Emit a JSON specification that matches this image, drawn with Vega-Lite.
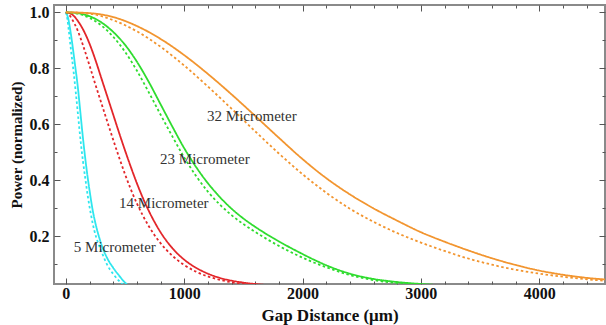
{
  "$schema": "https://vega.github.io/schema/vega-lite/v6.json",
  "width": 551,
  "height": 279,
  "autosize": {"type": "none"},
  "padding": {"left": 54, "top": 5, "right": 1, "bottom": 41},
  "background": "white",
  "config": {
    "view": {"stroke": "#8a8a8a", "strokeWidth": 2},
    "axis": {
      "grid": false,
      "domain": false,
      "tickColor": "#555555",
      "tickWidth": 1,
      "labelFont": "Liberation Serif",
      "labelFontWeight": "bold",
      "labelFontSize": 16,
      "labelColor": "#111111",
      "titleFont": "Liberation Serif",
      "titleFontWeight": "bold",
      "titleColor": "#111111"
    }
  },
  "datasets": {
    "curves": [
      {"beam": "5", "style": "solid", "x": 0, "y": 1.0},
      {"beam": "5", "style": "solid", "x": 20, "y": 0.978},
      {"beam": "5", "style": "solid", "x": 40, "y": 0.93},
      {"beam": "5", "style": "solid", "x": 60, "y": 0.87},
      {"beam": "5", "style": "solid", "x": 80, "y": 0.805},
      {"beam": "5", "style": "solid", "x": 100, "y": 0.738},
      {"beam": "5", "style": "solid", "x": 120, "y": 0.655},
      {"beam": "5", "style": "solid", "x": 140, "y": 0.57},
      {"beam": "5", "style": "solid", "x": 160, "y": 0.493},
      {"beam": "5", "style": "solid", "x": 180, "y": 0.425},
      {"beam": "5", "style": "solid", "x": 200, "y": 0.365},
      {"beam": "5", "style": "solid", "x": 225, "y": 0.298},
      {"beam": "5", "style": "solid", "x": 250, "y": 0.247},
      {"beam": "5", "style": "solid", "x": 275, "y": 0.206},
      {"beam": "5", "style": "solid", "x": 300, "y": 0.172},
      {"beam": "5", "style": "solid", "x": 350, "y": 0.122},
      {"beam": "5", "style": "solid", "x": 400, "y": 0.088},
      {"beam": "5", "style": "solid", "x": 450, "y": 0.06},
      {"beam": "5", "style": "solid", "x": 500, "y": 0.035},
      {"beam": "5", "style": "solid", "x": 550, "y": 0.018},
      {"beam": "5", "style": "dotted", "x": 0, "y": 1.0},
      {"beam": "5", "style": "dotted", "x": 10, "y": 0.985},
      {"beam": "5", "style": "dotted", "x": 25, "y": 0.935},
      {"beam": "5", "style": "dotted", "x": 45, "y": 0.86},
      {"beam": "5", "style": "dotted", "x": 65, "y": 0.79},
      {"beam": "5", "style": "dotted", "x": 85, "y": 0.71},
      {"beam": "5", "style": "dotted", "x": 105, "y": 0.625},
      {"beam": "5", "style": "dotted", "x": 125, "y": 0.54},
      {"beam": "5", "style": "dotted", "x": 145, "y": 0.468},
      {"beam": "5", "style": "dotted", "x": 165, "y": 0.405},
      {"beam": "5", "style": "dotted", "x": 185, "y": 0.345},
      {"beam": "5", "style": "dotted", "x": 210, "y": 0.283},
      {"beam": "5", "style": "dotted", "x": 240, "y": 0.222},
      {"beam": "5", "style": "dotted", "x": 270, "y": 0.18},
      {"beam": "5", "style": "dotted", "x": 300, "y": 0.147},
      {"beam": "5", "style": "dotted", "x": 350, "y": 0.098},
      {"beam": "5", "style": "dotted", "x": 400, "y": 0.066},
      {"beam": "5", "style": "dotted", "x": 450, "y": 0.041},
      {"beam": "5", "style": "dotted", "x": 500, "y": 0.022},
      {"beam": "14", "style": "solid", "x": 0, "y": 1.0},
      {"beam": "14", "style": "solid", "x": 50, "y": 0.993},
      {"beam": "14", "style": "solid", "x": 100, "y": 0.97},
      {"beam": "14", "style": "solid", "x": 150, "y": 0.935},
      {"beam": "14", "style": "solid", "x": 200, "y": 0.888},
      {"beam": "14", "style": "solid", "x": 250, "y": 0.83},
      {"beam": "14", "style": "solid", "x": 300, "y": 0.765},
      {"beam": "14", "style": "solid", "x": 350, "y": 0.7},
      {"beam": "14", "style": "solid", "x": 400, "y": 0.635},
      {"beam": "14", "style": "solid", "x": 450, "y": 0.57},
      {"beam": "14", "style": "solid", "x": 500, "y": 0.507},
      {"beam": "14", "style": "solid", "x": 550, "y": 0.447},
      {"beam": "14", "style": "solid", "x": 600, "y": 0.39},
      {"beam": "14", "style": "solid", "x": 650, "y": 0.338},
      {"beam": "14", "style": "solid", "x": 700, "y": 0.292},
      {"beam": "14", "style": "solid", "x": 750, "y": 0.251},
      {"beam": "14", "style": "solid", "x": 800, "y": 0.215},
      {"beam": "14", "style": "solid", "x": 900, "y": 0.158},
      {"beam": "14", "style": "solid", "x": 1000, "y": 0.117},
      {"beam": "14", "style": "solid", "x": 1100, "y": 0.088},
      {"beam": "14", "style": "solid", "x": 1200, "y": 0.067},
      {"beam": "14", "style": "solid", "x": 1300, "y": 0.052},
      {"beam": "14", "style": "solid", "x": 1400, "y": 0.042},
      {"beam": "14", "style": "solid", "x": 1500, "y": 0.035},
      {"beam": "14", "style": "solid", "x": 1600, "y": 0.03},
      {"beam": "14", "style": "solid", "x": 1700, "y": 0.026},
      {"beam": "14", "style": "dotted", "x": 0, "y": 1.0},
      {"beam": "14", "style": "dotted", "x": 25, "y": 0.993},
      {"beam": "14", "style": "dotted", "x": 50, "y": 0.977},
      {"beam": "14", "style": "dotted", "x": 100, "y": 0.935},
      {"beam": "14", "style": "dotted", "x": 150, "y": 0.876},
      {"beam": "14", "style": "dotted", "x": 200, "y": 0.81},
      {"beam": "14", "style": "dotted", "x": 250, "y": 0.742},
      {"beam": "14", "style": "dotted", "x": 300, "y": 0.676},
      {"beam": "14", "style": "dotted", "x": 350, "y": 0.61},
      {"beam": "14", "style": "dotted", "x": 400, "y": 0.545},
      {"beam": "14", "style": "dotted", "x": 450, "y": 0.482},
      {"beam": "14", "style": "dotted", "x": 500, "y": 0.422},
      {"beam": "14", "style": "dotted", "x": 550, "y": 0.367},
      {"beam": "14", "style": "dotted", "x": 600, "y": 0.318},
      {"beam": "14", "style": "dotted", "x": 650, "y": 0.275},
      {"beam": "14", "style": "dotted", "x": 700, "y": 0.237},
      {"beam": "14", "style": "dotted", "x": 750, "y": 0.204},
      {"beam": "14", "style": "dotted", "x": 800, "y": 0.176},
      {"beam": "14", "style": "dotted", "x": 900, "y": 0.131},
      {"beam": "14", "style": "dotted", "x": 1000, "y": 0.098},
      {"beam": "14", "style": "dotted", "x": 1100, "y": 0.074},
      {"beam": "14", "style": "dotted", "x": 1200, "y": 0.057},
      {"beam": "14", "style": "dotted", "x": 1300, "y": 0.045},
      {"beam": "14", "style": "dotted", "x": 1400, "y": 0.036},
      {"beam": "14", "style": "dotted", "x": 1500, "y": 0.03},
      {"beam": "14", "style": "dotted", "x": 1600, "y": 0.025},
      {"beam": "23", "style": "solid", "x": 0, "y": 1.0},
      {"beam": "23", "style": "solid", "x": 100, "y": 0.997},
      {"beam": "23", "style": "solid", "x": 200, "y": 0.986},
      {"beam": "23", "style": "solid", "x": 300, "y": 0.964},
      {"beam": "23", "style": "solid", "x": 400, "y": 0.93},
      {"beam": "23", "style": "solid", "x": 500, "y": 0.884},
      {"beam": "23", "style": "solid", "x": 600, "y": 0.824},
      {"beam": "23", "style": "solid", "x": 700, "y": 0.752},
      {"beam": "23", "style": "solid", "x": 800, "y": 0.672},
      {"beam": "23", "style": "solid", "x": 900, "y": 0.592},
      {"beam": "23", "style": "solid", "x": 1000, "y": 0.515},
      {"beam": "23", "style": "solid", "x": 1100, "y": 0.448},
      {"beam": "23", "style": "solid", "x": 1200, "y": 0.39},
      {"beam": "23", "style": "solid", "x": 1300, "y": 0.341},
      {"beam": "23", "style": "solid", "x": 1400, "y": 0.299},
      {"beam": "23", "style": "solid", "x": 1500, "y": 0.264},
      {"beam": "23", "style": "solid", "x": 1600, "y": 0.234},
      {"beam": "23", "style": "solid", "x": 1700, "y": 0.207},
      {"beam": "23", "style": "solid", "x": 1800, "y": 0.182},
      {"beam": "23", "style": "solid", "x": 1900, "y": 0.159},
      {"beam": "23", "style": "solid", "x": 2000, "y": 0.137},
      {"beam": "23", "style": "solid", "x": 2100, "y": 0.116},
      {"beam": "23", "style": "solid", "x": 2200, "y": 0.097},
      {"beam": "23", "style": "solid", "x": 2400, "y": 0.067},
      {"beam": "23", "style": "solid", "x": 2600, "y": 0.048},
      {"beam": "23", "style": "solid", "x": 2800, "y": 0.037},
      {"beam": "23", "style": "solid", "x": 3000, "y": 0.03},
      {"beam": "23", "style": "solid", "x": 3200, "y": 0.025},
      {"beam": "23", "style": "dotted", "x": 0, "y": 1.0},
      {"beam": "23", "style": "dotted", "x": 100, "y": 0.995},
      {"beam": "23", "style": "dotted", "x": 200, "y": 0.98},
      {"beam": "23", "style": "dotted", "x": 300, "y": 0.953},
      {"beam": "23", "style": "dotted", "x": 400, "y": 0.913},
      {"beam": "23", "style": "dotted", "x": 500, "y": 0.859},
      {"beam": "23", "style": "dotted", "x": 600, "y": 0.792},
      {"beam": "23", "style": "dotted", "x": 700, "y": 0.715},
      {"beam": "23", "style": "dotted", "x": 800, "y": 0.635},
      {"beam": "23", "style": "dotted", "x": 900, "y": 0.557},
      {"beam": "23", "style": "dotted", "x": 1000, "y": 0.482},
      {"beam": "23", "style": "dotted", "x": 1100, "y": 0.416},
      {"beam": "23", "style": "dotted", "x": 1200, "y": 0.36},
      {"beam": "23", "style": "dotted", "x": 1300, "y": 0.314},
      {"beam": "23", "style": "dotted", "x": 1400, "y": 0.276},
      {"beam": "23", "style": "dotted", "x": 1500, "y": 0.244},
      {"beam": "23", "style": "dotted", "x": 1600, "y": 0.216},
      {"beam": "23", "style": "dotted", "x": 1700, "y": 0.19},
      {"beam": "23", "style": "dotted", "x": 1800, "y": 0.166},
      {"beam": "23", "style": "dotted", "x": 1900, "y": 0.144},
      {"beam": "23", "style": "dotted", "x": 2000, "y": 0.124},
      {"beam": "23", "style": "dotted", "x": 2100, "y": 0.106},
      {"beam": "23", "style": "dotted", "x": 2200, "y": 0.09},
      {"beam": "23", "style": "dotted", "x": 2400, "y": 0.062},
      {"beam": "23", "style": "dotted", "x": 2600, "y": 0.044},
      {"beam": "23", "style": "dotted", "x": 2800, "y": 0.033},
      {"beam": "23", "style": "dotted", "x": 3000, "y": 0.026},
      {"beam": "23", "style": "dotted", "x": 3200, "y": 0.022},
      {"beam": "32", "style": "solid", "x": 0, "y": 1.0},
      {"beam": "32", "style": "solid", "x": 200, "y": 0.997},
      {"beam": "32", "style": "solid", "x": 400, "y": 0.983},
      {"beam": "32", "style": "solid", "x": 600, "y": 0.951},
      {"beam": "32", "style": "solid", "x": 800, "y": 0.905},
      {"beam": "32", "style": "solid", "x": 1000, "y": 0.847},
      {"beam": "32", "style": "solid", "x": 1200, "y": 0.78},
      {"beam": "32", "style": "solid", "x": 1400, "y": 0.707},
      {"beam": "32", "style": "solid", "x": 1600, "y": 0.63},
      {"beam": "32", "style": "solid", "x": 1800, "y": 0.552},
      {"beam": "32", "style": "solid", "x": 2000, "y": 0.476},
      {"beam": "32", "style": "solid", "x": 2200, "y": 0.408},
      {"beam": "32", "style": "solid", "x": 2400, "y": 0.35},
      {"beam": "32", "style": "solid", "x": 2600, "y": 0.3},
      {"beam": "32", "style": "solid", "x": 2800, "y": 0.256},
      {"beam": "32", "style": "solid", "x": 3000, "y": 0.215},
      {"beam": "32", "style": "solid", "x": 3200, "y": 0.181},
      {"beam": "32", "style": "solid", "x": 3400, "y": 0.15},
      {"beam": "32", "style": "solid", "x": 3600, "y": 0.122},
      {"beam": "32", "style": "solid", "x": 3800, "y": 0.098},
      {"beam": "32", "style": "solid", "x": 4000, "y": 0.078},
      {"beam": "32", "style": "solid", "x": 4200, "y": 0.063},
      {"beam": "32", "style": "solid", "x": 4400, "y": 0.052},
      {"beam": "32", "style": "solid", "x": 4600, "y": 0.045},
      {"beam": "32", "style": "dotted", "x": 0, "y": 1.0},
      {"beam": "32", "style": "dotted", "x": 200, "y": 0.995},
      {"beam": "32", "style": "dotted", "x": 400, "y": 0.972},
      {"beam": "32", "style": "dotted", "x": 600, "y": 0.932},
      {"beam": "32", "style": "dotted", "x": 800, "y": 0.877},
      {"beam": "32", "style": "dotted", "x": 1000, "y": 0.81},
      {"beam": "32", "style": "dotted", "x": 1200, "y": 0.735},
      {"beam": "32", "style": "dotted", "x": 1400, "y": 0.656},
      {"beam": "32", "style": "dotted", "x": 1600, "y": 0.575},
      {"beam": "32", "style": "dotted", "x": 1800, "y": 0.496},
      {"beam": "32", "style": "dotted", "x": 2000, "y": 0.422},
      {"beam": "32", "style": "dotted", "x": 2200, "y": 0.356},
      {"beam": "32", "style": "dotted", "x": 2400, "y": 0.299},
      {"beam": "32", "style": "dotted", "x": 2600, "y": 0.252},
      {"beam": "32", "style": "dotted", "x": 2800, "y": 0.212},
      {"beam": "32", "style": "dotted", "x": 3000, "y": 0.178},
      {"beam": "32", "style": "dotted", "x": 3200, "y": 0.148},
      {"beam": "32", "style": "dotted", "x": 3400, "y": 0.121},
      {"beam": "32", "style": "dotted", "x": 3600, "y": 0.099},
      {"beam": "32", "style": "dotted", "x": 3800, "y": 0.081},
      {"beam": "32", "style": "dotted", "x": 4000, "y": 0.067},
      {"beam": "32", "style": "dotted", "x": 4200, "y": 0.056},
      {"beam": "32", "style": "dotted", "x": 4400, "y": 0.047},
      {"beam": "32", "style": "dotted", "x": 4600, "y": 0.04}
    ],
    "labels": [
      {"label": "5 Micrometer", "x": 414, "y": 0.162},
      {"label": "14 Micrometer", "x": 828, "y": 0.319},
      {"label": "23 Micrometer", "x": 1175, "y": 0.476},
      {"label": "32 Micrometer", "x": 1572, "y": 0.63}
    ]
  },
  "layer": [
    {
      "data": {"name": "curves"},
      "mark": {"type": "line", "clip": true, "strokeWidth": 1.8, "interpolate": "monotone"},
      "encoding": {
        "x": {
          "field": "x", "type": "quantitative",
          "scale": {"domain": [-100, 4556], "nice": false, "zero": false},
          "axis": {
            "orient": "bottom",
            "values": [0, 200, 400, 600, 800, 1000, 1200, 1400, 1600, 1800, 2000, 2200, 2400, 2600, 2800, 3000, 3200, 3400, 3600, 3800, 4000, 4200, 4400],
            "format": "d",
            "labelExpr": "datum.value % 1000 === 0 ? datum.label : ''",
            "tickSize": {"condition": {"test": "datum.value % 1000 === 0", "value": -6}, "value": -3},
            "labelPadding": 7,
            "labelOverlap": false,
            "labelFlush": false,
            "title": "Gap Distance (μm)",
            "titleFontSize": 17,
            "titleBaseline": "alphabetic",
            "titleY": 36
          }
        },
        "y": {
          "field": "y", "type": "quantitative",
          "scale": {"domain": [0.03, 1.026], "nice": false, "zero": false},
          "axis": {
            "orient": "left",
            "values": [0.1, 0.2, 0.3, 0.4, 0.5, 0.6, 0.7, 0.8, 0.9, 1.0],
            "format": ".1f",
            "labelExpr": "abs(datum.value * 5 - round(datum.value * 5)) < 0.001 ? datum.label : ''",
            "tickSize": {"condition": {"test": "abs(datum.value * 5 - round(datum.value * 5)) < 0.001", "value": -6}, "value": -3},
            "labelPadding": 11,
            "labelOverlap": false,
            "labelFlush": false,
            "title": "Power (normalized)",
            "titleFontSize": 15,
            "titleBaseline": "alphabetic",
            "titleX": -33
          }
        },
        "color": {
          "field": "beam", "type": "nominal",
          "scale": {"domain": ["5", "14", "23", "32"], "range": ["#2ee6ee", "#e3262a", "#2fdc2f", "#f2952f"]},
          "legend": null
        },
        "strokeDash": {
          "field": "style", "type": "nominal",
          "scale": {"domain": ["solid", "dotted"], "range": [[1, 0], [2.5, 2.5]]},
          "legend": null
        }
      }
    },
    {
      "data": {"name": "labels"},
      "mark": {"type": "text", "font": "Liberation Serif", "fontSize": 15, "color": "#333333"},
      "encoding": {
        "x": {
          "field": "x", "type": "quantitative",
          "scale": {"domain": [-100, 4556], "nice": false, "zero": false},
          "axis": {
            "orient": "top",
            "values": [0, 200, 400, 600, 800, 1000, 1200, 1400, 1600, 1800, 2000, 2200, 2400, 2600, 2800, 3000, 3200, 3400, 3600, 3800, 4000, 4200, 4400],
            "labels": false,
            "tickSize": {"condition": {"test": "datum.value % 1000 === 0", "value": -6}, "value": -3},
            "title": null
          }
        },
        "y": {
          "field": "y", "type": "quantitative",
          "scale": {"domain": [0.03, 1.026], "nice": false, "zero": false},
          "axis": {
            "orient": "right",
            "values": [0.1, 0.2, 0.3, 0.4, 0.5, 0.6, 0.7, 0.8, 0.9, 1.0],
            "labels": false,
            "tickSize": {"condition": {"test": "abs(datum.value * 5 - round(datum.value * 5)) < 0.001", "value": -6}, "value": -3},
            "title": null
          }
        },
        "text": {"field": "label", "type": "nominal"}
      }
    }
  ],
  "resolve": {"axis": {"x": "independent", "y": "independent"}}
}
